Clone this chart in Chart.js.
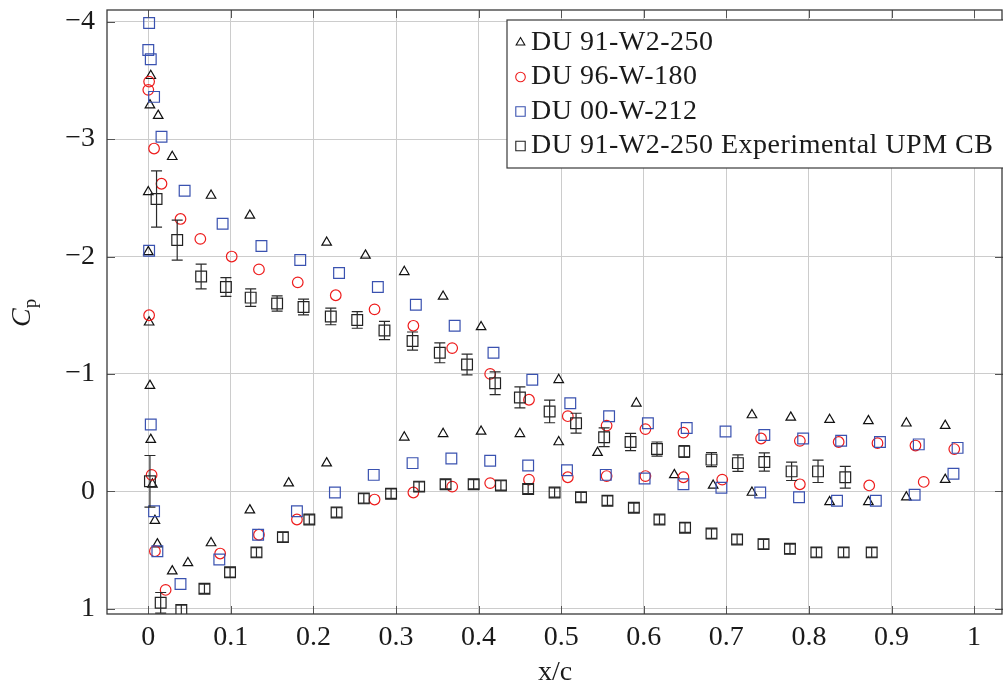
<!DOCTYPE html>
<html>
<head>
<meta charset="utf-8">
<script src="https://cdn.jsdelivr.net/npm/chart.js@4.4.0/dist/chart.umd.min.js"></script>
<style>
  html, body { margin: 0; padding: 0; background: #fff; overflow: hidden; }
  #cp { display: block; }
</style>
</head>
<body>
<canvas id="cp" width="1003" height="693"></canvas>
<script>
const seriesNames = ['DU 91-W2-250', 'DU 96-W-180', 'DU 00-W-212', 'DU 91-W2-250 Experimental UPM CB'];

const xTicks = [0, 0.1, 0.2, 0.3, 0.4, 0.5, 0.6, 0.7, 0.8, 0.9, 1];
const yTicks = [-4, -3, -2, -1, 0, 1];

// DU 91-W2-250 (triangles)
const du91X = [0.003, 0.002, 0.012, 0.029, 0.000, 0.076, 0.123, 0.216, 0.000, 0.263, 0.310, 0.357, 0.001, 0.403, 0.497, 0.591, 0.731, 0.778, 0.825, 0.872, 0.918, 0.965,
  0.002, 0.003, 0.005,
  0.008, 0.011, 0.029, 0.048, 0.076, 0.123, 0.170, 0.216, 0.310, 0.357, 0.403, 0.450, 0.497, 0.544, 0.637, 0.684, 0.731, 0.825, 0.872, 0.918, 0.965];
const du91Cp = [-3.54, -3.29, -3.20, -2.85, -2.55, -2.52, -2.35, -2.12, -2.04, -2.01, -1.87, -1.66, -1.44, -1.40, -0.95, -0.75, -0.65, -0.63, -0.61, -0.60, -0.58, -0.56,
  -0.90, -0.44, -0.06,
  0.25, 0.45, 0.68, 0.61, 0.44, 0.16, -0.07, -0.24, -0.46, -0.49, -0.51, -0.49, -0.42, -0.33, -0.14, -0.05, 0.01, 0.09, 0.09, 0.05, -0.10];

// DU 96-W-180 (circles)
const du96X = [0.001, 0.000, 0.007, 0.016, 0.039, 0.063, 0.101, 0.134, 0.181, 0.227, 0.274, 0.321, 0.368, 0.414, 0.461, 0.508, 0.555, 0.602, 0.648, 0.742, 0.789, 0.836, 0.883, 0.929, 0.976,
  0.001, 0.004,
  0.008, 0.021, 0.087, 0.134, 0.180, 0.274, 0.321, 0.368, 0.414, 0.461, 0.508, 0.555, 0.602, 0.648, 0.695, 0.789, 0.873, 0.939];
const du96Cp = [-3.49, -3.42, -2.92, -2.62, -2.32, -2.15, -2.00, -1.89, -1.78, -1.67, -1.55, -1.41, -1.22, -1.00, -0.78, -0.64, -0.56, -0.53, -0.50, -0.45, -0.43, -0.42, -0.41, -0.39, -0.36,
  -1.50, -0.14,
  0.51, 0.84, 0.53, 0.37, 0.24, 0.07, 0.01, -0.04, -0.07, -0.10, -0.12, -0.13, -0.13, -0.12, -0.10, -0.06, -0.05, -0.08];

// DU 00-W-212 (squares)
const du00X = [0.001, 0.000, 0.003, 0.007, 0.016, 0.044, 0.090, 0.137, 0.184, 0.231, 0.278, 0.324, 0.371, 0.418, 0.465, 0.511, 0.558, 0.605, 0.652, 0.699, 0.746, 0.793, 0.839, 0.886, 0.933, 0.980,
  0.001, 0.003,
  0.007, 0.011, 0.039, 0.086, 0.133, 0.180, 0.226, 0.273, 0.320, 0.367, 0.414, 0.460, 0.507, 0.554, 0.601, 0.648, 0.694, 0.741, 0.788, 0.834, 0.881, 0.928, 0.975];
const du00Cp = [-3.99, -3.76, -3.68, -3.36, -3.02, -2.56, -2.28, -2.09, -1.97, -1.86, -1.74, -1.59, -1.41, -1.18, -0.95, -0.75, -0.64, -0.58, -0.54, -0.51, -0.48, -0.45, -0.43, -0.42, -0.40, -0.37,
  -2.05, -0.57,
  0.17, 0.51, 0.79, 0.58, 0.37, 0.17, 0.01, -0.14, -0.24, -0.28, -0.26, -0.22, -0.18, -0.14, -0.11, -0.06, -0.03, 0.01, 0.05, 0.08, 0.08, 0.03, -0.15];

// Experimental UPM CB, with error bars
const expX = [0.010, 0.035, 0.064, 0.094, 0.124, 0.156, 0.188, 0.221, 0.253, 0.286, 0.320, 0.353, 0.386, 0.420, 0.450, 0.486, 0.518, 0.552, 0.584, 0.616, 0.649, 0.682, 0.714, 0.746, 0.779, 0.811, 0.844,
  0.002,
  0.015, 0.040, 0.068, 0.099, 0.131, 0.163, 0.195, 0.228, 0.261, 0.294, 0.328, 0.360, 0.394, 0.427, 0.460, 0.492, 0.524, 0.556, 0.588, 0.619, 0.650, 0.682, 0.713, 0.745, 0.777, 0.809, 0.842, 0.876];
const expCp = [-2.49, -2.14, -1.83, -1.74, -1.65, -1.60, -1.57, -1.49, -1.46, -1.37, -1.28, -1.18, -1.08, -0.92, -0.80, -0.68, -0.58, -0.46, -0.42, -0.36, -0.34, -0.27, -0.24, -0.25, -0.17, -0.17, -0.12,
  -0.085,
  0.95, 1.01, 0.83, 0.69, 0.52, 0.39, 0.24, 0.18, 0.06, 0.02, -0.04, -0.06, -0.06, -0.05, -0.02, 0.01, 0.05, 0.08, 0.14, 0.24, 0.31, 0.36, 0.41, 0.45, 0.49, 0.52, 0.52, 0.52];
const expErr = [0.24, 0.17, 0.105, 0.08, 0.074, 0.065, 0.067, 0.071, 0.071, 0.078, 0.077, 0.085, 0.088, 0.097, 0.089, 0.096, 0.085, 0.08, 0.074, 0.06, 0.05, 0.06, 0.07, 0.078, 0.078, 0.095, 0.092,
  0.22,
  0.088, 0.04, 0.04, 0.04, 0.04, 0.04, 0.04, 0.04, 0.04, 0.04, 0.04, 0.04, 0.04, 0.04, 0.04, 0.04, 0.04, 0.04, 0.04, 0.04, 0.04, 0.04, 0.04, 0.04, 0.04, 0.04, 0.04, 0.04];

const serif = "'Liberation Serif', 'Times New Roman', serif";
const markerStyles = [
  { style: 'triangle', color: '#111111', r: 5.5, lr: 5 },
  { style: 'circle', color: '#ee1c1c', r: 5.3, lr: 4.8 },
  { style: 'rect', color: '#3a52b0', r: 7.6, lr: 4.7 },
  { style: 'rect', color: '#222222', r: 7.6, lr: 4.7 }
];

function pairs(xs, ys, es) {
  return xs.map((x, i) => es ? { x: x, y: ys[i], e: es[i] } : { x: x, y: ys[i] });
}

function drawMarker(ctx, style, x, y, r) {
  ctx.beginPath();
  if (style === 'triangle') {
    ctx.moveTo(x, y - r);
    ctx.lineTo(x + r * 0.866, y + r / 2);
    ctx.lineTo(x - r * 0.866, y + r / 2);
    ctx.closePath();
  } else if (style === 'circle') {
    ctx.arc(x, y, r, 0, Math.PI * 2);
  } else {
    ctx.rect(x - r, y - r, 2 * r, 2 * r);
  }
  ctx.stroke();
}

const errorBars = {
  id: 'errorBars',
  afterDatasetsDraw(chart) {
    const ctx = chart.ctx;
    const xs = chart.scales.x, ys = chart.scales.y;
    const area = chart.chartArea;
    ctx.save();
    ctx.beginPath();
    ctx.rect(area.left, area.top, area.right - area.left, area.bottom - area.top);
    ctx.clip();
    ctx.strokeStyle = '#2a2a2a';
    ctx.lineWidth = 1.2;
    chart.data.datasets[3].data.forEach(p => {
      const px = xs.getPixelForValue(p.x);
      const y1 = ys.getPixelForValue(p.y - p.e);
      const y2 = ys.getPixelForValue(p.y + p.e);
      ctx.beginPath();
      ctx.moveTo(px, y1); ctx.lineTo(px, y2);
      ctx.moveTo(px - 5.5, y1); ctx.lineTo(px + 5.5, y1);
      ctx.moveTo(px - 5.5, y2); ctx.lineTo(px + 5.5, y2);
      ctx.stroke();
    });
    ctx.restore();
  }
};

const frameAndLegend = {
  id: 'frameAndLegend',
  afterDraw(chart) {
    const ctx = chart.ctx;
    const a = chart.chartArea;
    const xs = chart.scales.x, ys = chart.scales.y;
    ctx.save();
    // inward ticks on all sides
    ctx.strokeStyle = '#555555';
    ctx.lineWidth = 1;
    ctx.beginPath();
    xTicks.forEach(v => {
      const px = Math.round(xs.getPixelForValue(v)) + 0.5;
      ctx.moveTo(px, a.bottom); ctx.lineTo(px, a.bottom - 8);
      ctx.moveTo(px, a.top); ctx.lineTo(px, a.top + 8);
    });
    yTicks.forEach(v => {
      const py = Math.round(ys.getPixelForValue(v)) + 0.5;
      ctx.moveTo(a.left, py); ctx.lineTo(a.left + 8, py);
      ctx.moveTo(a.right, py); ctx.lineTo(a.right - 8, py);
    });
    ctx.stroke();
    // frame
    ctx.strokeStyle = '#3a3a3a';
    ctx.lineWidth = 1.3;
    ctx.strokeRect(a.left, a.top, a.right - a.left - 1, a.bottom - a.top);

    // legend box
    const lx = 507, ly = 20, lw = 500, lh = 148;
    ctx.fillStyle = '#ffffff';
    ctx.fillRect(lx, ly, lw, lh);
    ctx.strokeStyle = '#3a3a3a';
    ctx.lineWidth = 1.2;
    ctx.strokeRect(lx, ly, lw, lh);
    ctx.font = '28px ' + serif;
    ctx.letterSpacing = '0.5px';
    ctx.textBaseline = 'middle';
    ctx.textAlign = 'left';
    seriesNames.forEach((name, i) => {
      const cy = 41.5 + i * 34.5;
      const m = markerStyles[i];
      ctx.strokeStyle = m.color;
      ctx.lineWidth = 1.1;
      drawMarker(ctx, m.style, 520.5, cy + 1, m.lr);
      ctx.fillStyle = '#1a1a1a';
      ctx.fillText(name, 531, cy + 1);
    });
    ctx.letterSpacing = '0px';

    // y axis title C_p
    ctx.translate(30, 315);
    ctx.rotate(-Math.PI / 2);
    ctx.fillStyle = '#1a1a1a';
    ctx.textBaseline = 'alphabetic';
    ctx.font = 'italic 28px ' + serif;
    const cw = ctx.measureText('C').width;
    ctx.fillText('C', -12, 0);
    ctx.font = '19px ' + serif;
    ctx.fillText('p', -12 + cw, 6);
    ctx.restore();
  }
};

const datasets = [
  pairs(du91X, du91Cp),
  pairs(du96X, du96Cp),
  pairs(du00X, du00Cp),
  pairs(expX, expCp, expErr)
].map((data, i) => ({
  label: seriesNames[i],
  data: data,
  showLine: false,
  pointStyle: markerStyles[i].style,
  pointRadius: markerStyles[i].r,
  pointHoverRadius: markerStyles[i].r,
  pointBorderWidth: 1.2,
  borderColor: markerStyles[i].color,
  backgroundColor: 'rgba(0,0,0,0)',
  pointBackgroundColor: 'rgba(0,0,0,0)',
  order: 3 - i
}));

new Chart(document.getElementById('cp'), {
  type: 'scatter',
  data: { datasets: datasets },
  options: {
    responsive: false,
    devicePixelRatio: 1,
    animation: false,
    layout: { autoPadding: false, padding: { top: 10, right: 0, left: 0, bottom: 0 } },
    plugins: {
      legend: { display: false },
      tooltip: { enabled: false }
    },
    scales: {
      x: {
        type: 'linear',
        min: -0.05,
        max: 1.035,
        afterFit: s => { s.height = 79; s.paddingLeft = 0; s.paddingRight = 0; },
        afterBuildTicks: s => { s.ticks = xTicks.map(v => ({ value: v })); },
        border: { display: false },
        grid: { color: '#cccccc', lineWidth: 1, drawTicks: false },
        ticks: {
          padding: 7,
          color: '#1a1a1a',
          font: { family: serif, size: 28 },
          callback: v => String(Math.round(v * 10) / 10)
        },
        title: {
          display: true,
          text: 'x/c',
          color: '#1a1a1a',
          font: { family: serif, size: 28 },
          padding: { top: 0, bottom: 4 }
        }
      },
      y: {
        type: 'linear',
        reverse: true,
        min: -4.1,
        max: 1.045,
        afterFit: s => { s.width = 107; s.paddingTop = 0; s.paddingBottom = 0; },
        afterBuildTicks: s => { s.ticks = yTicks.map(v => ({ value: v })); },
        border: { display: false },
        grid: { color: '#cccccc', lineWidth: 1, drawTicks: false },
        ticks: {
          padding: 12,
          color: '#1a1a1a',
          font: { family: serif, size: 28 },
          callback: v => String(v).replace('-', '\u2212')
        }
      }
    }
  },
  plugins: [errorBars, frameAndLegend]
});
</script>
</body>
</html>
